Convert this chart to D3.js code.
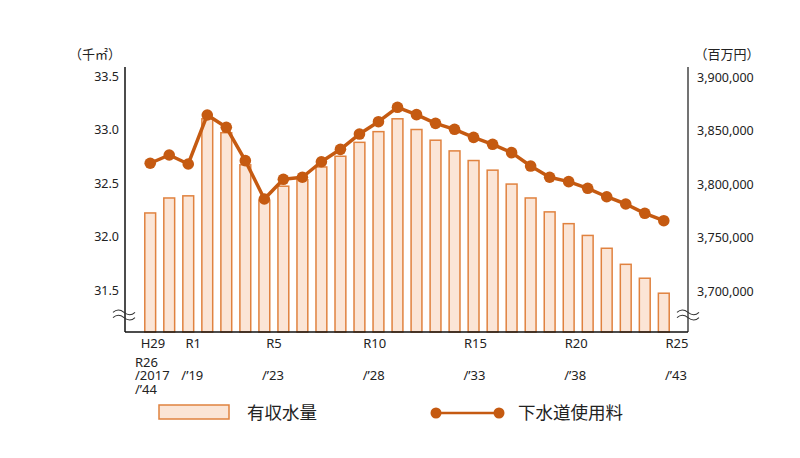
<!DOCTYPE html>
<html>
  <head>
    <meta charset="utf-8">
    <script src="https://d3js.org/d3.v7.min.js"></script>
    <style>
      body { margin: 0; background: #fff; }
      text { font-family: "Noto Sans", "Noto Sans CJK JP", sans-serif; fill: #222; }
    </style>
  </head>
  <body>
    <script>
      // fiscal years shown as bars / points
      var categories = ["H29", "H30", "R1", "R2", "R3", "R4", "R5", "R6", "R7", "R8",
                        "R9", "R10", "R11", "R12", "R13", "R14", "R15", "R16", "R17", "R18",
                        "R19", "R20", "R21", "R22", "R23", "R24", "R25", "R26"];

      // 有収水量 (千㎡) - left axis
      var waterVolume = [32.22, 32.36, 32.38, 33.10, 32.97, 32.67, 32.34, 32.47, 32.53, 32.65,
                         32.75, 32.88, 32.98, 33.10, 33.00, 32.90, 32.80, 32.71, 32.62, 32.49,
                         32.36, 32.23, 32.12, 32.01, 31.89, 31.74, 31.61, 31.47];

      // 下水道使用料 (百万円) - right axis
      var sewerFee = [3819400, 3827100, 3818700, 3864500, 3853000, 3821800, 3786000, 3804400, 3806300, 3820800,
                      3832400, 3846700, 3858200, 3871700, 3864800, 3856700, 3851100, 3843600, 3837100, 3829300,
                      3816800, 3806300, 3802200, 3796000, 3788100, 3781300, 3772600, 3765700];

      var leftTicks = [31.5, 32.0, 32.5, 33.0, 33.5];
      var rightTicks = [3700000, 3750000, 3800000, 3850000, 3900000];

      // x axis labels (era row and western year row)
      var eraLabels = ["H29", "R1", "R5", "R10", "R15", "R20", "R25"];
      var eraYears = [2017, 2019, 2023, 2028, 2033, 2038, 2043];
      var yearLabels = ["/’19", "/’23", "/’28", "/’33", "/’38", "/’43"];
      var yearYears = [2019, 2023, 2028, 2033, 2038, 2043];
      var firstLabel = ["R26", "/2017", "/’44"];

      var W = 800, H = 458;
      var plot = {left: 125, right: 688, top: 67, bottom: 332};

      var svg = d3.select("body").append("svg")
          .attr("width", W)
          .attr("height", H);

      /* scales */
      var x = d3.scaleBand()
          .domain(categories)
          .range([140.7, 673.3])
          .paddingInner(0.43)
          .paddingOuter(0.215);

      var yL = d3.scaleLinear().domain([31.5, 33.5]).range([290, 76]);
      var yR = d3.scaleLinear().domain([3700000, 3900000]).range([291, 77]);

      var xLabel = d3.scaleLinear().domain([2017, 2043]).range([153, 677]);

      /* bars */
      svg.selectAll(".bar")
          .data(waterVolume)
        .enter().append("rect")
          .attr("class", "bar")
          .attr("x", function(d, i) { return x(categories[i]); })
          .attr("width", x.bandwidth())
          .attr("y", function(d) { return yL(d); })
          .attr("height", function(d) { return plot.bottom - yL(d); })
          .attr("fill", "#fbe5d6")
          .attr("stroke", "#e0823f")
          .attr("stroke-width", 1.5);

      /* line + markers */
      var line = d3.line()
          .x(function(d, i) { return x(categories[i]) + x.bandwidth() / 2; })
          .y(function(d) { return yR(d); });

      svg.append("path")
          .datum(sewerFee)
          .attr("d", line)
          .attr("fill", "none")
          .attr("stroke", "#c55a11")
          .attr("stroke-width", 3.5)
          .attr("stroke-linejoin", "round");

      svg.selectAll(".dot")
          .data(sewerFee)
        .enter().append("circle")
          .attr("class", "dot")
          .attr("cx", function(d, i) { return x(categories[i]) + x.bandwidth() / 2; })
          .attr("cy", function(d) { return yR(d); })
          .attr("r", 5.8)
          .attr("fill", "#c55a11");

      /* frame lines */
      svg.append("line")
          .attr("x1", plot.left).attr("x2", plot.left)
          .attr("y1", plot.top).attr("y2", plot.bottom)
          .attr("stroke", "#111").attr("stroke-width", 1.5);
      svg.append("line")
          .attr("x1", plot.right).attr("x2", plot.right)
          .attr("y1", plot.top).attr("y2", plot.bottom)
          .attr("stroke", "#444").attr("stroke-width", 1.5);
      svg.append("line")
          .attr("x1", plot.left).attr("x2", plot.right)
          .attr("y1", plot.bottom).attr("y2", plot.bottom)
          .attr("stroke", "#111").attr("stroke-width", 1.5);

      /* axis break marks */
      [plot.left - 1, plot.right].forEach(function(cx) {
        [-2.6, 2.6].forEach(function(dy) {
          var cy = 315 + dy;
          svg.append("path")
              .attr("d", "M" + (cx - 11) + "," + cy + " c3.5,-3.2 7,-3.2 11,0 s7.5,3.2 11,0")
              .attr("fill", "none")
              .attr("stroke", "#333")
              .attr("stroke-width", 1.1);
        });
      });

      /* left axis */
      var gL = svg.append("g")
          .attr("transform", "translate(" + (plot.left - 3) + ",0)")
          .call(d3.axisLeft(yL).tickValues(leftTicks).tickSize(0).tickFormat(d3.format(".1f")));
      gL.select(".domain").remove();
      gL.selectAll("text")
          .style("font-family", "'Noto Sans', sans-serif")
          .style("font-size", "12.5px")
          .attr("fill", "#222");

      /* right axis */
      var gR = svg.append("g")
          .attr("transform", "translate(" + (plot.right + 6) + ",0)")
          .call(d3.axisRight(yR).tickValues(rightTicks).tickSize(0).tickFormat(d3.format(",")));
      gR.select(".domain").remove();
      gR.selectAll("text")
          .style("font-family", "'Noto Sans', sans-serif")
          .style("font-size", "12.5px")
          .attr("fill", "#222");

      /* unit labels */
      svg.append("text")
          .attr("x", 95).attr("y", 59)
          .attr("text-anchor", "middle")
          .style("font-size", "13px")
          .text("（千㎡）");
      svg.append("text")
          .attr("x", 727).attr("y", 59)
          .attr("text-anchor", "middle")
          .style("font-size", "13px")
          .text("（百万円）");

      /* x labels */
      svg.selectAll(".era")
          .data(eraLabels)
        .enter().append("text")
          .attr("class", "era")
          .attr("x", function(d, i) { return xLabel(eraYears[i]); })
          .attr("y", 348)
          .attr("text-anchor", "middle")
          .style("font-size", "13px")
          .text(function(d) { return d; });

      svg.selectAll(".yr")
          .data(yearLabels)
        .enter().append("text")
          .attr("class", "yr")
          .attr("x", function(d, i) { return xLabel(yearYears[i]) - 1; })
          .attr("y", 380)
          .attr("text-anchor", "middle")
          .style("font-size", "13px")
          .text(function(d) { return d; });

      // three-line label under the first bar, wrapped with tspans
      svg.append("text")
          .attr("class", "first")
          .attr("y", 367)
          .style("font-size", "13px")
        .selectAll("tspan")
          .data(firstLabel)
        .enter().append("tspan")
          .attr("x", 135)
          .attr("dy", function(d, i) { return i === 0 ? 0 : 13.3; })
          .text(function(d) { return d; });

      /* legend */
      var lg = svg.append("g");
      lg.append("rect")
          .attr("x", 159).attr("y", 405)
          .attr("width", 70).attr("height", 14)
          .attr("fill", "#fbe5d6")
          .attr("stroke", "#e0823f")
          .attr("stroke-width", 1.5);
      lg.append("text")
          .attr("x", 247).attr("y", 419)
          .style("font-size", "17.5px")
          .text("有収水量");
      lg.append("line")
          .attr("x1", 436).attr("x2", 499)
          .attr("y1", 413).attr("y2", 413)
          .attr("stroke", "#c55a11").attr("stroke-width", 2.5);
      [436, 499].forEach(function(cx) {
        lg.append("circle")
            .attr("cx", cx).attr("cy", 413).attr("r", 5.5)
            .attr("fill", "#c55a11");
      });
      lg.append("text")
          .attr("x", 518).attr("y", 419)
          .style("font-size", "17.5px")
          .text("下水道使用料");
    </script>
  </body>
</html>
